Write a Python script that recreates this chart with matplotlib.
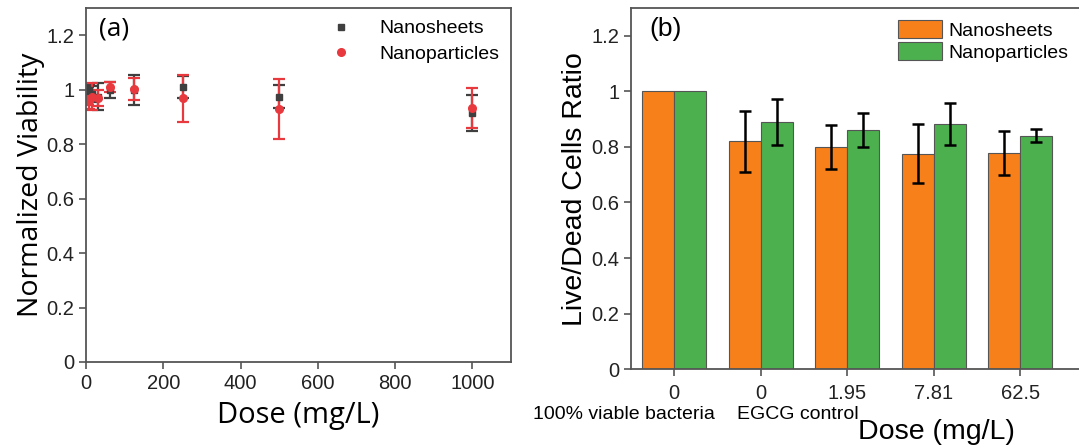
#!/usr/bin/env python3
import matplotlib
matplotlib.use("Agg")
import matplotlib.pyplot as plt
import numpy as np

# ---- panel (a) data
dose = [3.91, 7.81, 15.63, 31.25, 62.5, 125, 250, 500, 1000]
sheets_a = [0.99, 1.0, 0.985, 0.975, 1.0, 1.0, 1.01, 0.975, 0.915]
sheets_a_err = [0.02, 0.02, 0.03, 0.05, 0.03, 0.055, 0.04, 0.042, 0.067]
particles_a = [0.965, 0.96, 0.975, 0.97, 1.01, 1.004, 0.968, 0.93, 0.933]
particles_a_err = [0.02, 0.03, 0.05, 0.03, 0.02, 0.04, 0.085, 0.11, 0.074]

# ---- panel (b) data
groups = ["0", "0", "1.95", "7.81", "62.5"]
group_notes = ["100% viable bacteria", "EGCG control", "", "", ""]
sheets_b = [1.0, 0.82, 0.80, 0.776, 0.778]
sheets_b_err = [0, 0.109, 0.078, 0.107, 0.080]
particles_b = [1.0, 0.89, 0.86, 0.883, 0.841]
particles_b_err = [0, 0.084, 0.062, 0.076, 0.022]

yticks = [0, 0.2, 0.4, 0.6, 0.8, 1.0, 1.2]
ytick_labels = ["0", "0.2", "0.4", "0.6", "0.8", "1", "1.2"]

plt.rcParams["font.family"] = ["Liberation Sans", "DejaVu Sans"]
spine_col = "#555555"

fig = plt.figure(figsize=(10.79, 4.48), dpi=100)

#  --- (a)
ax = fig.add_axes([0.0797, 0.192, 0.394, 0.790])
ax.errorbar(dose, sheets_a, yerr=sheets_a_err, fmt="s", color="#3f3f3f",
            ms=5, capsize=4, elinewidth=1.6, capthick=1.6, label="Nanosheets")
ax.errorbar(dose, particles_a, yerr=particles_a_err, fmt="o", color="#e8393e",
            ms=5.5, capsize=4, elinewidth=1.6, capthick=1.6, label="Nanoparticles")
ax.set_xlim(0, 1100)
ax.set_ylim(0, 1.3)
ax.set_xticks([0, 200, 400, 600, 800, 1000])
ax.set_yticks(yticks)
ax.set_yticklabels(ytick_labels)
ax.tick_params(labelsize=14.5, colors="#222222", length=5, width=1.2,
               color=spine_col)
ax.set_xlabel("Dose (mg/L)", fontsize=21, family="Open Sans", labelpad=6)
ax.set_ylabel("Normalized Viability", fontsize=20.5, family="Open Sans",
              labelpad=1)
for s in ax.spines.values():
    s.set_color(spine_col)
    s.set_linewidth(1.3)
ax.text(0.03, 0.975, "(a)", transform=ax.transAxes, fontsize=19,
        family="Open Sans", va="top")
h, l = ax.get_legend_handles_labels()
h = [hh[0] for hh in h]
ax.legend(h, l, loc="upper right", frameon=False, fontsize=14,
          handletextpad=1.0, borderaxespad=0.2, labelspacing=0.4)

#  --- (b)
bx = fig.add_axes([0.5848, 0.176, 0.416, 0.806])
x = np.arange(len(groups))
w = 0.37
bx.bar(x - w / 2, sheets_b, w, color="#f8801a", edgecolor="#555555",
       linewidth=0.8, label="Nanosheets")
bx.bar(x + w / 2, particles_b, w, color="#4cb04f", edgecolor="#555555",
       linewidth=0.8, label="Nanoparticles")
for i in range(len(groups)):
    if sheets_b_err[i] > 0:
        bx.errorbar(x[i] - w / 2, sheets_b[i], yerr=sheets_b_err[i], fmt="none",
                    ecolor="black", capsize=4, elinewidth=1.8, capthick=1.8)
    if particles_b_err[i] > 0:
        bx.errorbar(x[i] + w / 2, particles_b[i], yerr=particles_b_err[i],
                    fmt="none", ecolor="black", capsize=4, elinewidth=1.8,
                    capthick=1.8)
bx.set_xlim(-0.5, 4.69)
bx.set_ylim(0, 1.3)
bx.set_xticks(x)
bx.set_xticklabels(groups)
bx.set_yticks(yticks)
bx.set_yticklabels(ytick_labels)
bx.tick_params(labelsize=14.5, colors="#222222", length=5, width=1.2,
               color=spine_col)
bx.tick_params(axis="x", pad=6)
note_shift = [-0.58, 0.43, 0, 0, 0]
for i, note in enumerate(group_notes):
    if note:
        bx.annotate(note, xy=(x[i] + note_shift[i], 0),
                    xycoords=("data", "axes fraction"),
                    xytext=(0, -33), textcoords="offset points", ha="center",
                    va="center", fontsize=14)
bx.set_ylabel("Live/Dead Cells Ratio", fontsize=20.5, labelpad=2)
bx.text(0.68, -0.175, "Dose (mg/L)", transform=bx.transAxes, fontsize=20.5,
        ha="center", va="center")
for s in bx.spines.values():
    s.set_color(spine_col)
    s.set_linewidth(1.3)
bx.text(0.04, 0.975, "(b)", transform=bx.transAxes, fontsize=19, va="top")
bx.legend(loc="upper right", frameon=False, fontsize=14, handlelength=2.3,
          handleheight=1.1, handletextpad=0.3, labelspacing=0.1,
          borderaxespad=0.2)

plt.savefig("out.png", dpi=100)
